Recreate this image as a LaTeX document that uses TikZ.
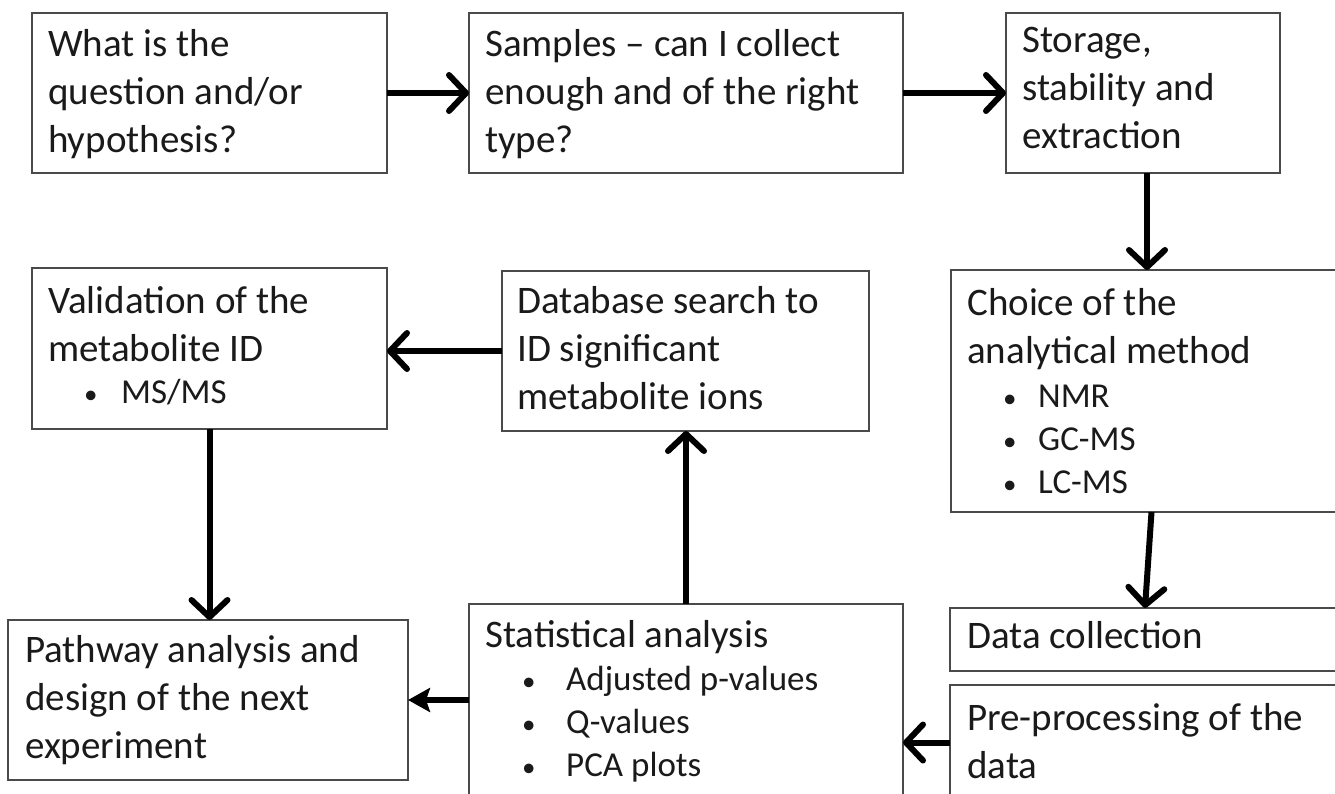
\documentclass[tikz,border=0pt]{standalone}
\usepackage{fontspec}
\setmainfont{Carlito}
\usetikzlibrary{arrows.meta}
\definecolor{boxgray}{HTML}{4A4A4A}
\definecolor{ink}{HTML}{1A1A1A}
\newcommand{\bulletdot}{{\fontsize{27}{27}\selectfont •}}
\begin{document}
\begin{tikzpicture}[x=1pt,y=-1pt,
  box/.style={draw=boxgray, line width=1.5pt, inner sep=0pt, outer sep=0pt, anchor=north west, rectangle},
  txt/.style={anchor=base west, inner sep=0pt, text=ink, font=\fontsize{39}{48}\selectfont},
  bul/.style={anchor=base west, inner sep=0pt, text=ink, font=\fontsize{35}{43}\selectfont},
  flow/.style={line width=6pt, -{Straight Barb[length=17pt,width=36pt,round]}},
  flowsmall/.style={line width=6pt, -{Stealth[length=22pt,width=24pt,inset=4pt]}}
]
\fill[white] (0,0) rectangle (1335,794);
\useasboundingbox (0,0) rectangle (1335,794);
\clip (0,0) rectangle (1335,794);

% boxes
\node[box, minimum width=355pt, minimum height=160pt] (b1) at (32,13) {};
\node[box, minimum width=434pt, minimum height=160pt] (b2) at (469,13) {};
\node[box, minimum width=274pt, minimum height=160pt] (b3) at (1006,13) {};
\node[box, minimum width=389pt, minimum height=242pt] (b4) at (951,270) {};
\node[box, minimum width=367pt, minimum height=160pt] (b5) at (502,271) {};
\node[box, minimum width=355pt, minimum height=161pt] (b6) at (32,268) {};
\node[box, minimum width=400pt, minimum height=160pt] (b7) at (8,620) {};
\node[box, minimum width=434pt, minimum height=196pt] (b8) at (469,604) {};
\node[box, minimum width=390pt, minimum height=63pt] (b9) at (950,608) {};
\node[box, minimum width=390pt, minimum height=115pt] (b10) at (950,685) {};

% texts
\node[txt] (t1) at (48,57) {\begin{tabular}[t]{@{}l@{}}What is the\\ question and/or\\ hypothesis?\end{tabular}};
\node[txt] (t2) at (485,57) {\begin{tabular}[t]{@{}l@{}}Samples – can I collect\\ enough and of the right\\ type?\end{tabular}};
\node[txt] (t3) at (1022,53) {\begin{tabular}[t]{@{}l@{}}Storage,\\ stability and\\ extraction\end{tabular}};
\node[txt] (t4) at (967,315) {\begin{tabular}[t]{@{}l@{}}Choice of the\\ analytical method\end{tabular}};
\node[bul] (l4) at (1003,407) {\begin{tabular}[t]{@{}p{35pt}@{}l@{}}\bulletdot&NMR\\ \bulletdot&GC-MS\\ \bulletdot&LC-MS\end{tabular}};
\node[txt] (t5) at (517,313) {\begin{tabular}[t]{@{}l@{}}Database search to\\ ID significant\\ metabolite ions\end{tabular}};
\node[txt] (t6) at (48,313) {\begin{tabular}[t]{@{}l@{}}Validation of the\\ metabolite ID\end{tabular}};
\node[bul] (l6) at (84,403) {\begin{tabular}[t]{@{}p{37pt}@{}l@{}}\bulletdot&MS/MS\end{tabular}};
\node[txt] (t7) at (25,662) {\begin{tabular}[t]{@{}l@{}}Pathway analysis and\\ design of the next\\ experiment\end{tabular}};
\node[txt] (t8) at (485,647) {Statistical analysis};
\node[bul] (l8) at (522,690) {\begin{tabular}[t]{@{}p{44pt}@{}l@{}}\bulletdot&Adjusted p-values\\ \bulletdot&Q-values\\ \bulletdot&PCA plots\end{tabular}};
\node[txt] (t9) at (967,648) {Data collection};
\node[txt] (t10) at (967,730) {\begin{tabular}[t]{@{}l@{}}Pre-processing of the\\ data\end{tabular}};

% connectors
\draw[flow] (b1.east) -- (b2.west);
\draw[flow] (b2.east) -- (b3.west);
\draw[flow] ([xshift=4pt]b3.south) -- ([xshift=4pt]b3.south |- b4.north);
\draw[flow] ([xshift=6pt]b4.south) -- (b9.north);
\draw[flow] (b10.west) -- (b10.west -| b8.east);
\draw[flowsmall] (b8.west |- b7.east) -- (b7.east);
\draw[flow] (b8.north) -- (b8.north |- b5.south);
\draw[flow] (b5.west) -- (b5.west -| b6.east);
\draw[flow] (b6.south) -- (b6.south |- b7.north);
\end{tikzpicture}
\end{document}
